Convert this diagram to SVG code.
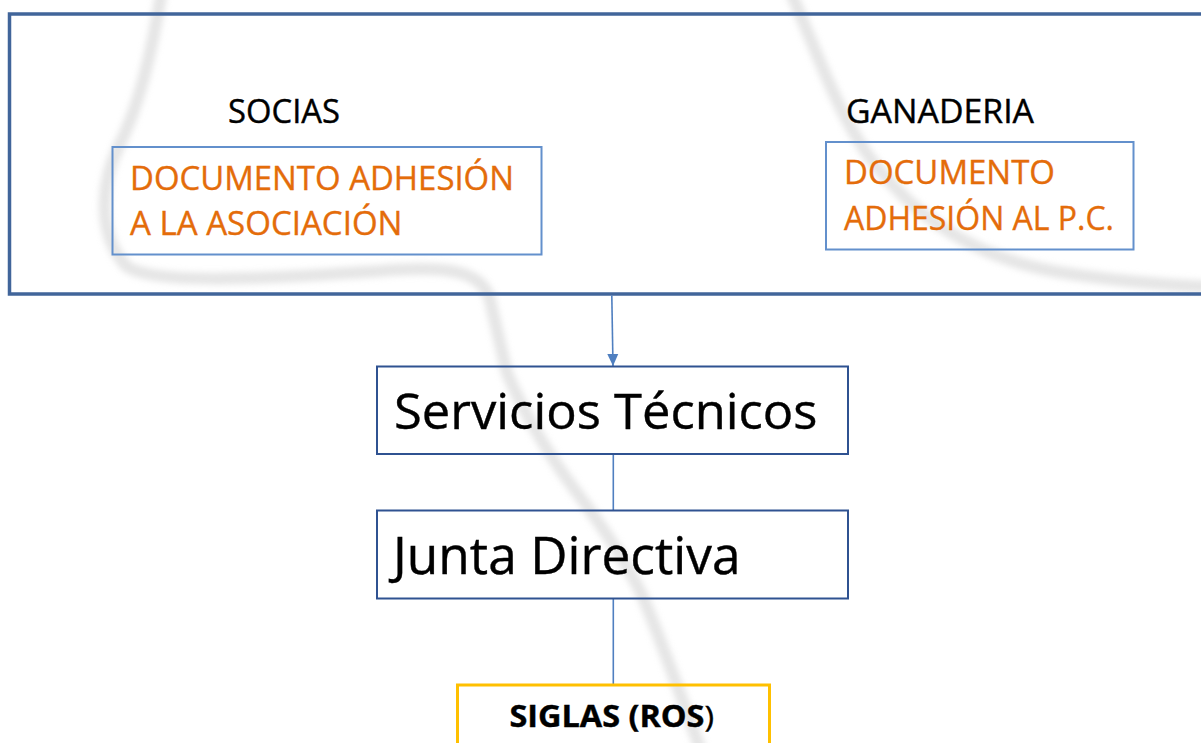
<svg xmlns="http://www.w3.org/2000/svg" width="1201" height="743" viewBox="0 0 1201 743">
<defs>
<style>
.wm{fill:none;stroke:#d4d4d4;stroke-width:12;stroke-linecap:round;opacity:0.6;filter:url(#blur)}
.outer{fill:none;stroke:#41659a;stroke-width:3.5}
.doc{fill:none;stroke:#6390cc;stroke-width:2}
.box{fill:none;stroke:#2f5291;stroke-width:2}
.gold{fill:none;stroke:#ffc000;stroke-width:3}
.conn{fill:none;stroke:#4f7fc0;stroke-width:1.6}
.t{font-family:"Open Sans","Noto Sans","Liberation Sans",sans-serif;fill:#000;stroke:#000;stroke-width:0.4}
.o{font-family:"Open Sans","Noto Sans","Liberation Sans",sans-serif;fill:#e46c0a;stroke:#e46c0a;stroke-width:0.35;font-size:32px}
</style>
<filter id="blur" x="-10%" y="-10%" width="120%" height="120%"><feGaussianBlur stdDeviation="3"/></filter>
<marker id="arr" markerUnits="userSpaceOnUse" markerWidth="12" markerHeight="12" refX="12" refY="6" orient="auto"><path d="M0,0.5 L12,6 L0,11.5 z" fill="#4f7fc0"/></marker>
</defs>
<rect width="1201" height="743" fill="#fff"/>
<g id="watermark">
<path class="wm" d="M161,-5 C152,50 140,105 118,148 C100,185 98,235 126,266 C150,284 250,280 380,271 C440,266 482,268 490,300 L507,373 C525,415 545,450 575,490 C600,523 625,560 642,595 C655,625 668,660 700,748"/>
<path class="wm" d="M792,-5 C818,55 842,125 878,168 C918,218 975,258 1058,272 C1120,282 1170,285 1210,287"/>
</g>
<g id="outer-frame">
<rect class="outer" x="9.5" y="14" width="1220" height="280"/>
</g>
<g id="socias">
<text class="t" x="228" y="123" font-size="33" textLength="112" lengthAdjust="spacingAndGlyphs">SOCIAS</text>
</g>
<g id="ganaderia">
<text class="t" x="846" y="123" font-size="33" textLength="188" lengthAdjust="spacingAndGlyphs">GANADERIA</text>
</g>
<g id="doc-asociacion">
<rect class="doc" x="112.5" y="147" width="429" height="107.5"/>
<text class="o" x="130" y="190" textLength="384" lengthAdjust="spacingAndGlyphs">DOCUMENTO ADHESIÓN</text>
<text class="o" x="130" y="235" textLength="272.5" lengthAdjust="spacingAndGlyphs">A LA ASOCIACIÓN</text>
</g>
<g id="doc-pc">
<rect class="doc" x="826" y="142" width="307.5" height="107.5"/>
<text class="o" x="844" y="184" textLength="211" lengthAdjust="spacingAndGlyphs">DOCUMENTO</text>
<text class="o" x="844" y="230" textLength="270" lengthAdjust="spacingAndGlyphs">ADHESIÓN AL P.C.</text>
</g>
<g id="connectors">
<line class="conn" x1="611.8" y1="295.5" x2="613" y2="366" marker-end="url(#arr)"/>
<line class="conn" x1="613.3" y1="454" x2="613.3" y2="510.5"/>
<line class="conn" x1="613.3" y1="598.5" x2="613.3" y2="685"/>
</g>
<g id="servicios-tecnicos">
<rect class="box" x="377" y="366.5" width="471" height="87.5"/>
<text class="t" x="394" y="429" font-size="50" textLength="423.5" lengthAdjust="spacingAndGlyphs">Servicios Técnicos</text>
</g>
<g id="junta-directiva">
<rect class="box" x="377" y="510.5" width="471" height="88"/>
<text class="t" x="393" y="574" font-size="51" textLength="347.5" lengthAdjust="spacingAndGlyphs">Junta Directiva</text>
</g>
<g id="siglas">
<rect class="gold" x="457.5" y="685" width="312" height="70"/>
<text class="t" x="509.5" y="727" font-size="30" font-weight="bold" textLength="204.5" lengthAdjust="spacingAndGlyphs">SIGLAS (ROS<tspan font-weight="normal">)</tspan></text>
</g>
</svg>
